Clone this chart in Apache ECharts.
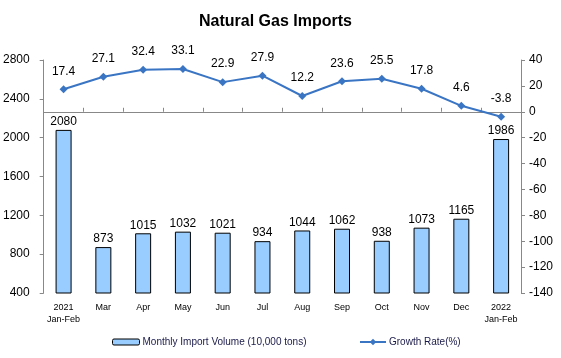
<!DOCTYPE html>
<html>
<head>
<meta charset="utf-8">
<script src="https://cdn.jsdelivr.net/npm/echarts@6/dist/echarts.min.js"></script>
<style>html,body{margin:0;padding:0;background:#fff}#c{width:561px;height:358px}</style>
</head>
<body>
<div id="c"></div>
<script>
const categories = ['2021\nJan-Feb','Mar','Apr','May','Jun','Jul','Aug','Sep','Oct','Nov','Dec','2022\nJan-Feb'];
const importVolume = [2080, 873, 1015, 1032, 1021, 934, 1044, 1062, 938, 1073, 1165, 1986];
const growthRate = [17.4, 27.1, 32.4, 33.1, 22.9, 27.9, 12.2, 23.6, 25.5, 17.8, 4.6, -3.8];
const leftTicks = {min: 400, max: 2800, interval: 400};
const rightTicks = {min: -140, max: 40, interval: 20};

const font = 'Arial, "Liberation Sans", sans-serif';
const chart = echarts.init(document.getElementById('c'), null, {renderer: 'canvas'});
chart.setOption({
  animation: false,
  backgroundColor: '#fff',
  textStyle: {fontFamily: font},
  title: {
    text: 'Natural Gas Imports',
    left: 194, top: 9,
    textStyle: {fontSize: 16, fontWeight: 'bold', color: '#000', fontFamily: font}
  },
  legend: [{
    data: ['Monthly Import Volume (10,000 tons)'],
    left: 107, top: 332,
    itemWidth: 27, itemHeight: 6, itemGap: 2,
    textStyle: {fontSize: 10, color: '#1a1a4a', fontFamily: font, padding: [0, 0, 0, -2]},
    itemStyle: {borderColor: '#000', borderWidth: 1}
  }, {
    data: ['Growth Rate(%)'],
    left: 354, top: 332,
    itemWidth: 26, itemHeight: 8,
    textStyle: {fontSize: 10, color: '#1a1a4a', fontFamily: font, padding: [0, 0, 0, -2]}
  }],
  grid: {left: 43, right: 40, top: 60, bottom: 65, containLabel: false},
  xAxis: {
    type: 'category',
    data: categories,
    axisLine: {lineStyle: {color: '#888', width: 1}},
    axisTick: {show: true, inside: true, length: 4, lineStyle: {color: '#888'}},
    axisLabel: {interval: 0, fontSize: 9, color: '#000', margin: 9, lineHeight: 12, fontFamily: font}
  },
  yAxis: [{
    type: 'value',
    min: leftTicks.min, max: leftTicks.max, interval: leftTicks.interval,
    splitLine: {show: false},
    axisLine: {show: true, lineStyle: {color: '#888'}},
    axisTick: {show: true, length: 4, lineStyle: {color: '#888'}},
    axisLabel: {fontSize: 12, color: '#000', margin: 14, fontFamily: font, formatter: v => String(v)}
  }, {
    type: 'value',
    min: rightTicks.min, max: rightTicks.max, interval: rightTicks.interval,
    splitLine: {show: false},
    axisLine: {show: true, lineStyle: {color: '#888'}},
    axisTick: {show: true, length: 4, lineStyle: {color: '#888'}},
    axisLabel: {fontSize: 12, color: '#000', margin: 8, fontFamily: font, formatter: v => String(v)}
  }],
  series: [{
    name: 'Monthly Import Volume (10,000 tons)',
    type: 'bar',
    data: importVolume,
    barWidth: 16,
    itemStyle: {color: '#99CCFF', borderColor: '#000', borderWidth: 1},
    label: {show: true, position: 'top', fontSize: 12, color: '#000', distance: 2, fontFamily: font}
  }, {
    name: 'Growth Rate(%)',
    type: 'line',
    yAxisIndex: 1,
    data: growthRate,
    symbol: 'diamond',
    symbolSize: 8,
    lineStyle: {color: '#3A75C4', width: 2},
    itemStyle: {color: '#3A75C4'},
    label: {show: true, position: 'top', fontSize: 12, color: '#000', distance: 8, fontFamily: font}
  }]
});
</script>
</body>
</html>
